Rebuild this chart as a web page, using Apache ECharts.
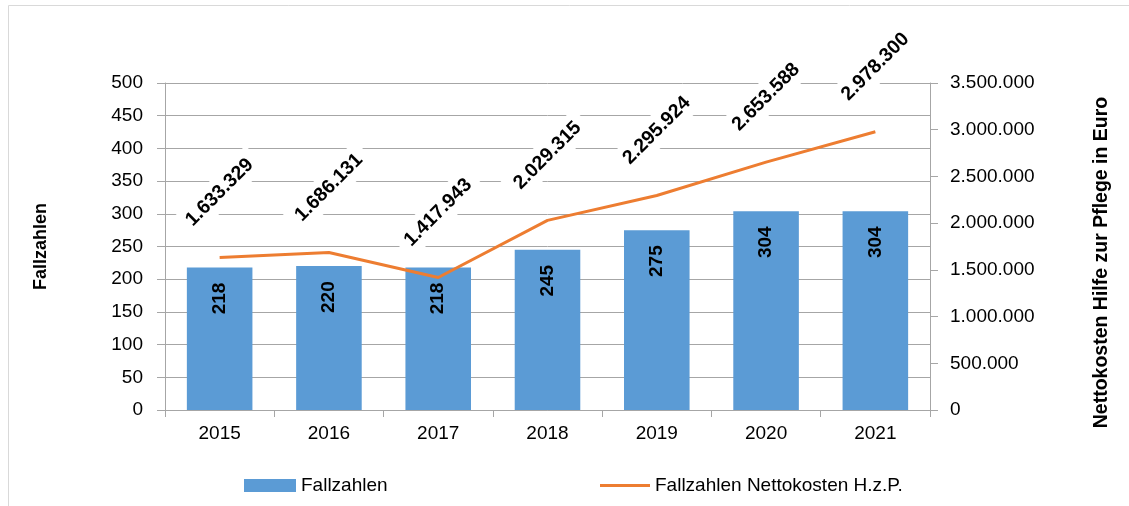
<!DOCTYPE html>
<html>
<head>
<meta charset="utf-8">
<script src="https://cdn.jsdelivr.net/npm/echarts@6/dist/echarts.min.js"></script>
<style>
  html, body { margin: 0; padding: 0; background: #fff; }
  #chart { width: 1129px; height: 506px; }
</style>
</head>
<body>
<div id="chart"></div>
<script>
// Daten
const jahre = ["2015", "2016", "2017", "2018", "2019", "2020", "2021"];
const fallzahlen = [218, 220, 218, 245, 275, 304, 304];
const nettokosten = [1633329, 1686131, 1417943, 2029315, 2295924, 2653588, 2978300];

const font = "'Liberation Sans', Arial, sans-serif";
const grau = "#a6a6a6";

// 1.633.329
const fmt = (v) => String(Math.round(v)).replace(/\B(?=(\d{3})+(?!\d))/g, ".");

const myChart = echarts.init(document.getElementById("chart"));

let option = {
  animation: false,
  textStyle: { fontFamily: font },
  graphic: [
    {
      type: "rect",
      shape: { x: 8.5, y: 5.5, width: 1130, height: 510 },
      style: { fill: "none", stroke: "#d9d9d9", lineWidth: 1 },
      silent: true,
    },
  ],
  grid: { left: 165, right: 199, top: 83, bottom: 96 },
  legend: [
    {
      left: 244,
      top: 476,
      padding: 0,
      itemWidth: 52,
      itemHeight: 13,
      textStyle: { fontSize: 19, color: "#000", fontFamily: font },
      data: [{ name: "Fallzahlen", icon: "rect" }],
    },
    {
      left: 600,
      top: 476,
      padding: 0,
      itemWidth: 50,
      itemHeight: 3,
      textStyle: { fontSize: 19, color: "#000", fontFamily: font },
      data: [{ name: "Fallzahlen Nettokosten H.z.P.", icon: "rect" }],
    },
  ],
  xAxis: {
    type: "category",
    data: jahre,
    axisLine: { lineStyle: { color: grau } },
    axisTick: { show: true, length: 7, lineStyle: { color: grau } },
    axisLabel: { fontSize: 19, color: "#000", margin: 14, fontFamily: font },
  },
  yAxis: [
    {
      type: "value",
      min: 0,
      max: 500,
      interval: 50,
      name: "Fallzahlen",
      nameLocation: "middle",
      nameGap: 115,
      nameRotate: 90,
      nameTextStyle: { fontSize: 18, fontWeight: "bold", color: "#000", fontFamily: font },
      axisLine: { show: true, lineStyle: { color: grau } },
      axisTick: { show: true, length: 8, lineStyle: { color: grau } },
      axisLabel: { fontSize: 19, color: "#000", margin: 22, fontFamily: font },
      splitLine: { lineStyle: { color: grau } },
    },
    {
      type: "value",
      min: 0,
      max: 3500000,
      interval: 500000,
      position: "right",
      name: "Nettokosten Hilfe zur Pflege in Euro",
      nameLocation: "middle",
      nameGap: 162,
      nameRotate: 90,
      nameTextStyle: {
        fontSize: 19.5,
        fontWeight: "bold",
        color: "#000",
        fontFamily: font,
        padding: [0, 32, 0, 0],
      },
      axisLine: { show: true, lineStyle: { color: grau } },
      axisTick: { show: true, length: 8, lineStyle: { color: grau } },
      axisLabel: { fontSize: 19, color: "#000", margin: 20, formatter: fmt, fontFamily: font },
      splitLine: { show: false },
    },
  ],
  series: [
    {
      name: "Fallzahlen",
      type: "bar",
      data: fallzahlen,
      barWidth: "60%",
      itemStyle: { color: "#5b9bd5" },
      label: {
        show: true,
        position: "insideTop",
        distance: 31,
        rotate: 90,
        align: "center",
        verticalAlign: "middle",
        fontSize: 19,
        fontWeight: "bold",
        color: "#000",
        fontFamily: font,
      },
    },
    {
      name: "Fallzahlen Nettokosten H.z.P.",
      type: "line",
      yAxisIndex: 1,
      data: nettokosten,
      symbol: "circle",
      symbolSize: 0,
      showSymbol: true,
      lineStyle: { color: "#ed7d31", width: 3 },
      itemStyle: { color: "#ed7d31" },
      label: {
        show: true,
        position: "top",
        distance: 65,
        rotate: 45,
        align: "center",
        verticalAlign: "middle",
        fontSize: 19.5,
        fontWeight: "bold",
        color: "#000",
        backgroundColor: "#fff",
        padding: [5, 8],
        formatter: (p) => fmt(p.value),
        fontFamily: font,
      },
    },
  ],
};

myChart.setOption(option);
window.onresize = () => {
  myChart.resize();
};
</script>
</body>
</html>
